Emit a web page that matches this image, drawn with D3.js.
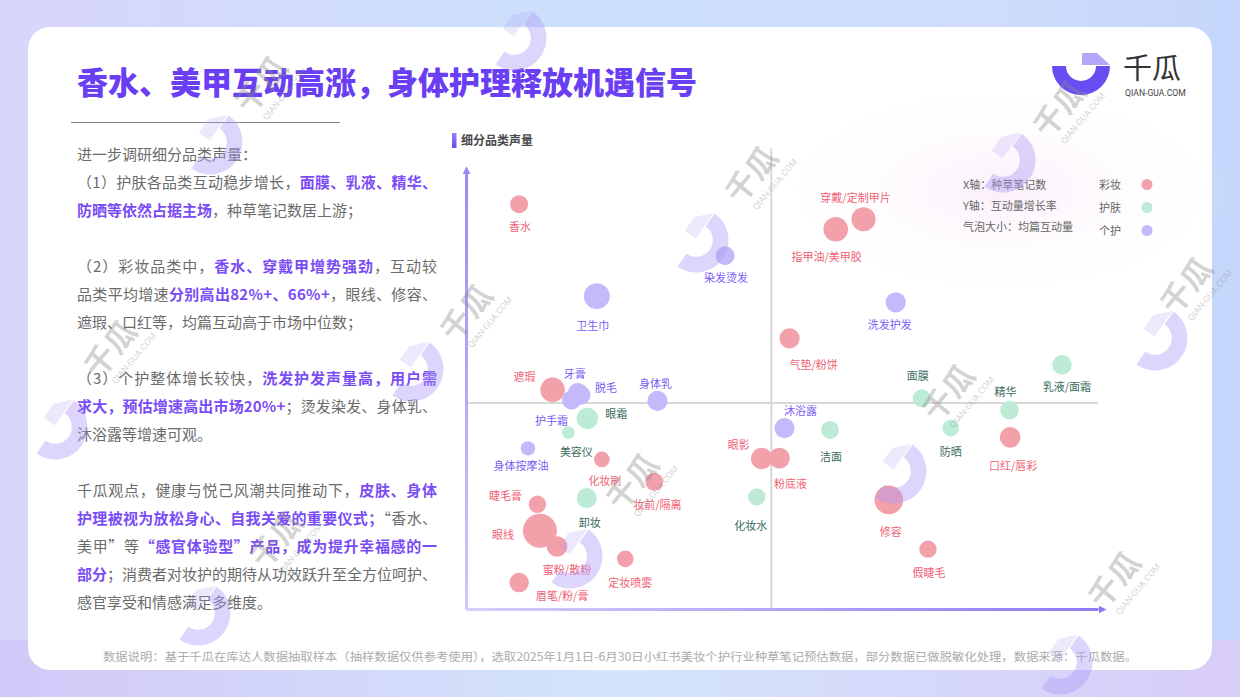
<!DOCTYPE html>
<html><head><meta charset="utf-8">
<script src="https://cdn.jsdelivr.net/npm/d3@7"></script>
<style>
html,body{margin:0;padding:0;background:#fff;overflow:hidden;}
svg{display:block;font-family:"Noto Sans CJK SC","Noto Sans",sans-serif;}
</style></head><body>
<svg id="chart" width="1240" height="697"></svg>
<script>
// ===== DATA =====
const categories = ["彩妆", "护肤", "个护"];
const names = ["香水","穿戴/定制甲片","指甲油/美甲胶","染发烫发","卫生巾","洗发护发","气垫/粉饼","乳液/面霜",
  "遮瑕","牙膏","脱毛","护手霜","身体乳","面膜","精华","眼霜","沐浴露","洁面","防晒","口红/唇彩","美容仪",
  "身体按摩油","眼影","粉底液","化妆刷","妆前/隔离","化妆水","卸妆","修容","睫毛膏","眼线","蜜粉/散粉",
  "假睫毛","定妆喷雾","眉笔/粉/膏"];
const category = ["彩妆","彩妆","彩妆","个护","个护","个护","彩妆","护肤",
  "彩妆","个护","个护","个护","个护","护肤","护肤","护肤","个护","护肤","护肤","彩妆","护肤",
  "个护","彩妆","彩妆","彩妆","彩妆","护肤","护肤","彩妆","彩妆","彩妆","彩妆",
  "彩妆","彩妆","彩妆"];
// X: 种草笔记数 (relative index), Y: 互动量增长率 (relative index), size: 均篇互动量 (relative index)
const noteCount = [8.4,62.9,58.5,41.0,20.7,68.0,51.2,94.3,
  13.7,17.7,18.2,16.7,30.3,72.1,86.0,19.2,50.4,57.6,76.7,86.1,16.2,
  9.8,46.8,49.6,21.5,29.8,46.0,19.1,66.9,11.3,11.7,14.4,
  73.1,25.2,8.4];
const growthRate = [92.0,88.6,86.3,80.3,71.1,69.7,61.5,55.5,
  49.8,49.1,48.6,47.5,47.3,47.9,45.2,43.3,41.1,40.7,41.1,39.0,40.1,
  36.5,34.2,34.3,34.0,28.9,25.5,25.2,24.8,23.8,17.8,14.2,
  13.6,11.4,6.0];
const avgInteraction = [28,50,52,31,58,35,35,33,
  52,35,31,31,35,28,30,40,35,28,24,37,14,
  18,40,37,21,28,26,35,71,26,100,37,
  26,24,33];
const xMedian = 48.3, yMedian = 46.8;
const legendAxisText = ["X轴：种草笔记数", "Y轴：互动量增长率", "气泡大小：均篇互动量"];

// ===== LAYOUT (label offsets relative to bubble) =====
const labelDx = [1,-8,-9,1,-4,-6,24,5, -28,-3,25,-20,-2,-4,-4,29,16,1,0,3,8, -7,-23,11,3,3,-6,3,2,-32,-37,10, 1,5,43];
const labelDy = [22,-22,27,21,29,22,26,21, -14,-20,-8,20,-18,-23,-19,-5,-18,26,23,28,18, 17,-15,25,21,22,28,24,31,-9,3,22, 23,23,12];

const bubbleFill = {"彩妆":"#f2a0aa","护肤":"#bdebd5","个护":"#c5b8fb"};
const labelFill = {"彩妆":"#f05f76","护肤":"#3a6b5d","个护":"#7a5bf5"};

const W = 1240, H = 697;
const svg = d3.select("#chart");
const defs = svg.append("defs");

function lin(id, x1, y1, x2, y2, stops, user) {
  const g = defs.append("linearGradient").attr("id", id)
    .attr("x1", x1).attr("y1", y1).attr("x2", x2).attr("y2", y2);
  if (user) g.attr("gradientUnits", "userSpaceOnUse");
  stops.forEach(s => g.append("stop").attr("offset", s[0]).attr("stop-color", s[1]));
}
lin("bg", 0, 0, 1, 0, [[0, "#d8d6fb"], [0.45, "#cbe0fb"], [0.8, "#cfdcfb"], [1, "#c4d6fb"]]);
lin("bgb", 0, 0, 1, 0, [[0, "#d2c8f8"], [0.5, "#d3e5fb"], [1, "#d8ccf8"]]);
lin("gy", 0, 609, 0, 169, [[0, "#cfc8fb"], [1, "#9a8af7"]], true);
lin("gx", 466, 0, 1098, 0, [[0, "#d5cefc"], [1, "#8a7cf4"]], true);
lin("tbar", 0, 0, 0, 1, [[0, "#9b7cf8"], [1, "#6a4cf3"]]);
const rg = defs.append("radialGradient").attr("id", "glow");
rg.append("stop").attr("offset", 0).attr("stop-color", "#fbeefa").attr("stop-opacity", 0.9);
rg.append("stop").attr("offset", 1).attr("stop-color", "#ffffff").attr("stop-opacity", 0);

function marker(id, color, refX) {
  defs.append("marker").attr("id", id).attr("viewBox", "0 0 10 10")
    .attr("refX", refX).attr("refY", 5).attr("markerWidth", 8).attr("markerHeight", 8)
    .attr("markerUnits", "userSpaceOnUse").attr("orient", "auto")
    .append("path").attr("d", "M0,0L10,5L0,10Z").attr("fill", color);
}
marker("arrowY", "#9a8af7", 6);
marker("arrowX", "#8a7cf4", 0);

// background
svg.append("rect").attr("width", W).attr("height", H).attr("fill", "url(#bg)");
svg.append("rect").attr("y", 640).attr("width", W).attr("height", 57).attr("fill", "url(#bgb)");
svg.append("rect").attr("x", 28).attr("y", 27).attr("width", 1184).attr("height", 643).attr("rx", 22).attr("fill", "#fff");
svg.append("ellipse").attr("cx", 1000).attr("cy", 190).attr("rx", 230).attr("ry", 110).attr("fill", "url(#glow)");

// title
svg.append("text").attr("x", 77).attr("y", 94).attr("font-size", 31).attr("font-weight", 900)
  .attr("fill", "#6a3ef3").text("香水、美甲互动高涨，身体护理释放机遇信号");
svg.append("line").attr("x1", 71).attr("x2", 340).attr("y1", 122.5).attr("y2", 122.5)
  .attr("stroke", "#8a8a8a").attr("stroke-width", 1);

// logo
function logoShape(g, dark, light, darkOp, lightOp) {
  g.append("path").attr("d", d3.arc()({innerRadius: 15, outerRadius: 29, startAngle: Math.PI / 2, endAngle: 3 * Math.PI / 2}))
    .attr("fill", dark).attr("fill-opacity", darkOp);
  g.append("path").attr("d", "M1,-13L16,-13L29,-1L1,-1Z").attr("fill", light).attr("fill-opacity", lightOp);
}
logoShape(svg.append("g").attr("transform", "translate(1081,66)"), "#6a4cf3", "#b3a6fa", 1, 1);
svg.append("text").attr("x", 1123).attr("y", 79).attr("font-size", 29).attr("fill", "#333").text("千瓜");
svg.append("text").attr("x", 1125).attr("y", 96).attr("font-size", 8.6).attr("fill", "#444")
  .attr("font-family", "Roboto, 'Noto Sans', sans-serif").text("QIAN-GUA.COM");

// left text
const paras = [
  [["进一步调研细分品类声量：", 0]],
  [["（1）护肤各品类互动稳步增长，", 0], ["面膜、乳液、精华、", 1]],
  [["防晒等依然占据主场", 1], ["，种草笔记数居上游；", 0]],
  null,
  [["（2）彩妆品类中，", 0], ["香水、穿戴甲增势强劲", 1], ["，互动较", 0]],
  [["品类平均增速", 0], ["分别高出82%+、66%+", 1], ["，眼线、修容、", 0]],
  [["遮瑕、口红等，均篇互动高于市场中位数；", 0]],
  null,
  [["（3）个护整体增长较快，", 0], ["洗发护发声量高，用户需", 1]],
  [["求大，预估增速高出市场20%+", 1], ["；烫发染发、身体乳、", 0]],
  [["沐浴露等增速可观。", 0]],
  null,
  [["千瓜观点，健康与悦己风潮共同推动下，", 0], ["皮肤、身体", 1]],
  [["护理被视为放松身心、自我关爱的重要仪式；", 1], ["“香水、", 0]],
  [["美甲”等", 0], ["“感官体验型”产品，成为提升幸福感的一", 1]],
  [["部分", 1], ["；消费者对妆护的期待从功效跃升至全方位呵护、", 0]],
  [["感官享受和情感满足多维度。", 0]]
];
const justify = [0,1,0,0,1,1,0,0,1,1,0,0,1,1,1,1,0];
const tg = svg.append("g");
paras.forEach((ln, i) => {
  if (!ln) return;
  const t = tg.append("text").attr("x", 77).attr("y", 160 + i * 28).attr("font-size", 15);
  ln.forEach(seg => {
    t.append("tspan").text(seg[0]).attr("fill", seg[1] ? "#7a4cf5" : "#6b6b6b")
      .attr("font-weight", seg[1] ? 700 : 400);
  });
  if (justify[i]) {
    const len = t.node().getComputedTextLength();
    const n = ln.map(s => s[0]).join("").length;
    const ls = (360 - len) / (n - 1);
    t.attr("letter-spacing", ls);
  }
});

// chart title
svg.append("rect").attr("x", 452).attr("y", 133).attr("width", 4.5).attr("height", 15).attr("fill", "url(#tbar)");
svg.append("text").attr("x", 461).attr("y", 145).attr("font-size", 12).attr("font-weight", 700)
  .attr("fill", "#4a4a4a").text("细分品类声量");

// scales
const x = d3.scaleLinear().domain([0, 100]).range([466, 1098]);
const y = d3.scaleLinear().domain([0, 100]).range([609, 169]);
const r = d3.scaleSqrt().domain([0, 100]).range([0, 17]);

// quadrant lines
svg.append("line").attr("x1", x(xMedian)).attr("x2", x(xMedian)).attr("y1", y(0)).attr("y2", y(104.7))
  .attr("stroke", "#d8d8d8").attr("stroke-width", 2);
svg.append("line").attr("x1", x(0)).attr("x2", x(100)).attr("y1", y(yMedian)).attr("y2", y(yMedian))
  .attr("stroke", "#d8d8d8").attr("stroke-width", 2);

// axes
const gy = svg.append("g").attr("transform", `translate(${x(0)},0)`)
  .call(d3.axisLeft(y).tickValues([]).tickSizeOuter(0));
gy.select(".domain").attr("stroke", "url(#gy)").attr("stroke-width", 3).attr("marker-end", "url(#arrowY)");
const gx = svg.append("g").attr("transform", `translate(0,${y(0)})`)
  .call(d3.axisBottom(x).tickValues([]).tickSizeOuter(0));
gx.select(".domain").attr("stroke", "url(#gx)").attr("stroke-width", 3).attr("marker-end", "url(#arrowX)");

// bubbles
const idx = d3.range(names.length);
const bg = svg.append("g");
bg.selectAll("circle").data(idx).join("circle")
  .attr("cx", i => x(noteCount[i])).attr("cy", i => y(growthRate[i]))
  .attr("r", i => r(avgInteraction[i])).attr("fill", i => bubbleFill[category[i]]);
bg.selectAll("text").data(idx).join("text")
  .attr("x", i => x(noteCount[i]) + labelDx[i]).attr("y", i => y(growthRate[i]) + labelDy[i])
  .attr("text-anchor", "middle").attr("dominant-baseline", "central")
  .attr("font-size", 11).attr("fill", i => labelFill[category[i]]).text(i => names[i]);

// legend
const lg = svg.append("g");
legendAxisText.forEach((t, i) => {
  lg.append("text").attr("x", 963).attr("y", 189 + i * 21).attr("font-size", 11).attr("fill", "#666").text(t);
});
categories.forEach((c, i) => {
  lg.append("text").attr("x", 1099).attr("y", 189 + i * 23).attr("font-size", 11).attr("fill", "#666").text(c);
  lg.append("circle").attr("cx", 1147).attr("cy", 184.5 + i * 23).attr("r", 5.5).attr("fill", bubbleFill[c]);
});

// footer
svg.append("text").attr("x", 103).attr("y", 661).attr("font-size", 11.5).attr("fill", "#ababab")
  .attr("textLength", 1034).attr("lengthAdjust", "spacingAndGlyphs")
  .text("数据说明：基于千瓜在库达人数据抽取样本（抽样数据仅供参考使用），选取2025年1月1日-6月30日小红书美妆个护行业种草笔记预估数据，部分数据已做脱敏化处理，数据来源：千瓜数据。");

// watermarks (decoration)
const wm = svg.append("g").attr("pointer-events", "none");
const ringPos = [[514,38],[210,142],[55,427],[411,369],[696,240],[1003,160],[1155,338],[894,471],[570,556],[198,613],[1060,662]];
ringPos.forEach(p => {
  logoShape(wm.append("g").attr("transform", `translate(${p[0]},${p[1]}) rotate(-55) scale(1.12)`),
    "#ad9cf7", "#ad9cf7", 0.42, 0.22);
});
const textPos = [[270,92],[760,182],[1068,116],[119,356],[475,320],[1195,293],[957,400],[641,489],[285,547],[1123,587]];
textPos.forEach(p => {
  const g = wm.append("g").attr("transform", `translate(${p[0]},${p[1]}) rotate(-50)`);
  g.append("text").attr("text-anchor", "middle").attr("font-size", 31).attr("font-weight", 700)
    .attr("fill", "#8c8c8c").attr("fill-opacity", 0.38).text("千瓜");
  g.append("text").attr("x", 8).attr("y", 16).attr("text-anchor", "middle").attr("font-size", 9)
    .attr("fill", "#8c8c8c").attr("fill-opacity", 0.38).attr("font-family", "Roboto, sans-serif").text("QIAN-GUA.COM");
});
</script>
</body></html>
